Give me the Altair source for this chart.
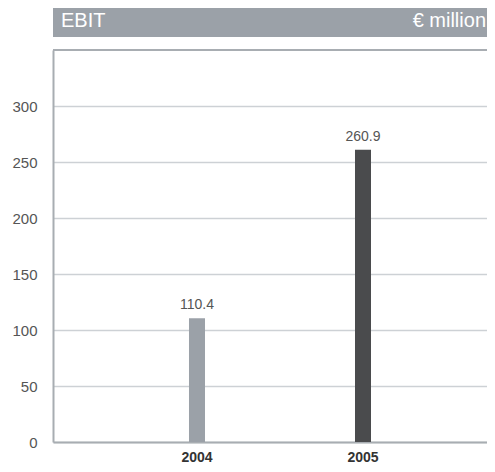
import altair as alt
import pandas as pd

years = ["2004", "2005"]
ebit = [110.4, 260.9]
bar_colors = ["#9ba1a8", "#4a4b4d"]
y_ticks = [0, 50, 100, 150, 200, 250, 300]
title_left = "EBIT"
title_right = "€ million"

df = pd.DataFrame({"year": years, "ebit": ebit, "label": [f"{v:.1f}" for v in ebit]})

W = 434
H = 392

x = alt.X("year:N", sort=years,
          scale=alt.Scale(paddingInner=0, paddingOuter=0.3072, align=0.598),
          axis=alt.Axis(title=None, labelAngle=0, labelFont="Liberation Sans", labelFontWeight="bold",
                        labelFontSize=14, labelColor="#333333", labelPadding=8, ticks=False,
                        domainColor="#a8adb2", domainWidth=2))
y = alt.Y("ebit:Q", scale=alt.Scale(domain=[0, 350], nice=False),
          axis=alt.Axis(title=None, values=y_ticks, labelFont="Liberation Sans", labelFontSize=15,
                        labelColor="#555555", labelPadding=16, ticks=False, domainColor="#a8adb2",
                        domainWidth=2, gridColor="#cdd1d5", gridWidth=1.5))

bars = alt.Chart(df).mark_bar(size=16).encode(
    x=x, y=y,
    color=alt.Color("year:N", scale=alt.Scale(domain=years, range=bar_colors), legend=None),
)
labels = alt.Chart(df).mark_text(dy=-9, baseline="alphabetic", font="Liberation Sans", fontSize=14,
                                 color="#555555").encode(x=x, y=y, text="label:N")

hdr = pd.DataFrame({"t": [title_left]})
header = alt.Chart(hdr).mark_rect(color="#9ba1a8", clip=False).encode(
    x=alt.value(0), x2=alt.value(W + 10), y=alt.value(-50), y2=alt.value(-13))
top_border = alt.Chart(hdr).mark_rule(color="#a8adb2", strokeWidth=2).encode(
    x=alt.value(0), x2=alt.value(W + 10), y=alt.value(0))
hleft = alt.Chart(hdr).mark_text(align="left", baseline="alphabetic", font="Liberation Sans", fontSize=20,
                                 color="white").encode(x=alt.value(8), y=alt.value(-23), text="t:N")
hright = alt.Chart(pd.DataFrame({"t": [title_right]})).mark_text(
    align="right", baseline="alphabetic", font="Liberation Sans", fontSize=20, color="white").encode(
    x=alt.value(W - 1), y=alt.value(-23), text="t:N")

chart = alt.layer(header, top_border, hleft, hright, bars, labels).properties(
    width=W, height=H,
    autosize=alt.AutoSizeParams(type="none"),
    padding={"left": 45, "top": 42, "right": 0, "bottom": 25},
).configure_view(stroke=None)

chart.save("out.html", embed_options={"renderer": "svg", "actions": False})
